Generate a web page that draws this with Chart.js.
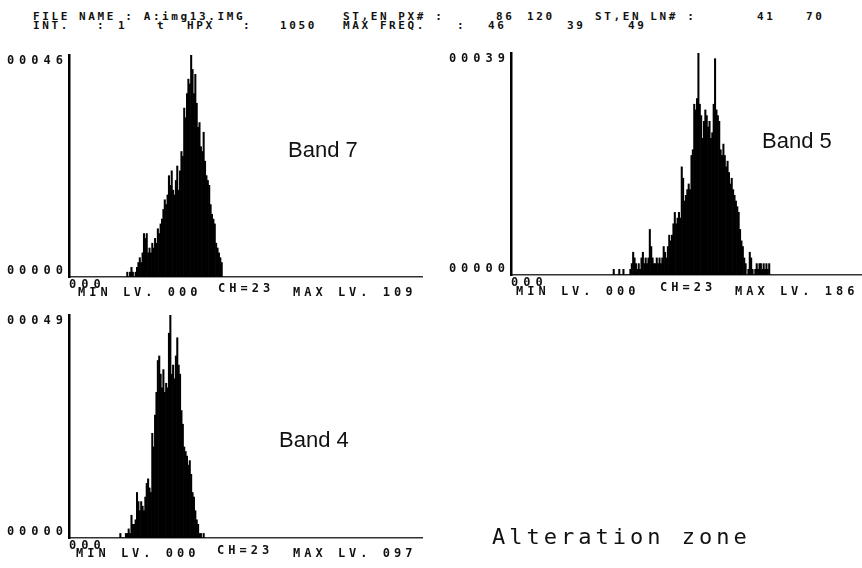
<!DOCTYPE html>
<html>
<head>
<meta charset="utf-8">
<script src="https://cdn.jsdelivr.net/npm/chart.js@4.4.1/dist/chart.umd.min.js"></script>
<style>
  body { margin: 0; background: #fff; }
  #page { position: relative; width: 862px; height: 568px; overflow: hidden; background: #fff; color: #111; }
  canvas { position: absolute; }
  .dot { position: absolute; font: bold 12px 'DejaVu Sans Mono', monospace; line-height: 1; letter-spacing: 4px; white-space: pre; }
  .hdr { font-size: 11px; letter-spacing: 2.6px; }
  .band { position: absolute; font: 22px 'Liberation Sans', Arial, sans-serif; line-height: 1; white-space: pre; }
  .zone { position: absolute; font: 22px 'DejaVu Sans Mono', monospace; line-height: 1; letter-spacing: 4px; white-space: pre; }
</style>
</head>
<body>
<div id="page">
  <!-- header printout -->
  <div class="dot hdr" style="left:33px;top:11px">FILE NAME : A:img13.IMG</div>
  <div class="dot hdr" style="left:343px;top:11px">ST,EN PX# :</div>
  <div class="dot hdr" style="left:496px;top:11px">86</div>
  <div class="dot hdr" style="left:527px;top:11px">120</div>
  <div class="dot hdr" style="left:595px;top:11px">ST,EN LN# :</div>
  <div class="dot hdr" style="left:757px;top:11px">41</div>
  <div class="dot hdr" style="left:806px;top:11px">70</div>
  <div class="dot hdr" style="left:33px;top:20px">INT.</div>
  <div class="dot hdr" style="left:97px;top:20px">:</div>
  <div class="dot hdr" style="left:118px;top:20px">1</div>
  <div class="dot hdr" style="left:157px;top:20px">t</div>
  <div class="dot hdr" style="left:187px;top:20px">HPX</div>
  <div class="dot hdr" style="left:243px;top:20px">:</div>
  <div class="dot hdr" style="left:280px;top:20px">1050</div>
  <div class="dot hdr" style="left:343px;top:20px">MAX FREQ.</div>
  <div class="dot hdr" style="left:457px;top:20px">:</div>
  <div class="dot hdr" style="left:488px;top:20px">46</div>
  <div class="dot hdr" style="left:567px;top:20px">39</div>
  <div class="dot hdr" style="left:628px;top:20px">49</div>

  <canvas id="band7" width="423" height="257" style="left:0;top:40px"></canvas>
  <canvas id="band5" width="425" height="255" style="left:440px;top:40px"></canvas>
  <canvas id="band4" width="423" height="258" style="left:0;top:300px"></canvas>

  <div class="band" style="left:288px;top:139px">Band 7</div>
  <div class="band" style="left:762px;top:130px">Band 5</div>
  <div class="band" style="left:279px;top:429px">Band 4</div>

  <div class="dot" style="left:78px;top:286px">MIN LV. 000</div>
  <div class="dot" style="left:218px;top:282px">CH=23</div>
  <div class="dot" style="left:293px;top:286px">MAX LV. 109</div>

  <div class="dot" style="left:516px;top:285px">MIN LV. 000</div>
  <div class="dot" style="left:660px;top:281px">CH=23</div>
  <div class="dot" style="left:735px;top:285px">MAX LV. 186</div>

  <div class="dot" style="left:76px;top:547px">MIN LV. 000</div>
  <div class="dot" style="left:217px;top:544px">CH=23</div>
  <div class="dot" style="left:293px;top:547px">MAX LV. 097</div>

  <div class="zone" style="left:492px;top:526px">Alteration zone</div>
</div>

<script>
// grey levels 0..255, one bar per level; counts start at bandXStart
const levelMin = 0;
const levelMax = 255;
const xTickLevels = [0];

const band7Start = 42;
const band7Counts = [1, 0, 1, 2, 1, 0, 1, 2, 3, 4,
  3, 5, 9, 8, 9, 5, 6, 5, 7, 6,
  8, 7, 10, 9, 11, 12, 14, 16, 15, 17,
  21, 19, 22, 18, 17, 20, 23, 18, 22, 26,
  25, 35, 33, 38, 41, 40, 46, 43, 38, 42,
  36, 31, 32, 27, 26, 30, 24, 21, 20, 19,
  15, 13, 12, 11, 7, 6, 5, 4, 3];

const band5Start = 74;
const band5Counts = [1, 0, 0, 0, 1, 0, 0, 1, 0, 0,
  0, 0, 1, 2, 4, 3, 2, 1, 2, 1,
  3, 4, 2, 3, 2, 3, 8, 5, 3, 2,
  2, 3, 2, 3, 2, 3, 5, 4, 3, 5,
  7, 6, 7, 9, 11, 9, 10, 11, 10, 19,
  17, 13, 14, 15, 16, 15, 21, 22, 30, 29,
  31, 39, 30, 28, 24, 27, 29, 28, 26, 27,
  24, 25, 30, 38, 29, 28, 27, 22, 21, 23,
  21, 19, 20, 18, 16, 17, 15, 14, 13, 12,
  11, 8, 6, 5, 3, 2, 0, 1, 4, 3,
  1, 0, 1, 2, 1, 2, 2, 1, 2, 1,
  2, 1, 2, 0];

const band4Start = 37;
const band4Counts = [1, 0, 0, 0, 1, 1, 2, 1, 5, 3,
  3, 4, 10, 8, 6, 8, 7, 6, 9, 12,
  13, 11, 10, 23, 20, 27, 32, 39, 40, 36,
  33, 37, 32, 34, 33, 45, 49, 36, 38, 35,
  40, 44, 38, 36, 28, 25, 20, 19, 18, 16,
  17, 14, 10, 9, 6, 4, 3, 1, 1, 0,
  1];

// MAX FREQ. for band 7, 5, 4 (top tick of each y axis)
const maxFreq = [46, 39, 49];

const dotFont = { family: "'DejaVu Sans Mono', monospace", size: 12, weight: 'bold', lineHeight: 1 };

// y labels are spaced wide, the x "000" label tighter (x axis drawn after the bars, z:1)
const spacing = {
  id: 'spacing',
  beforeDraw(chart) { chart.ctx.letterSpacing = '5px'; },
  afterDatasetsDraw(chart) { chart.ctx.letterSpacing = '1.5px'; }
};

function histogram(id, start, counts, top, padTop, axisWidth) {
  const points = counts.map((c, i) => ({ x: start + i, y: c }));
  return new Chart(document.getElementById(id), {
    type: 'bar',
    data: {
      datasets: [{
        data: points,
        backgroundColor: '#000',
        borderWidth: 0,
        barPercentage: 1,
        categoryPercentage: 1
      }]
    },
    options: {
      responsive: false,
      animation: false,
      devicePixelRatio: 1,
      layout: { padding: { top: padTop, left: 0, right: 0, bottom: 0 } },
      plugins: { legend: { display: false }, tooltip: { enabled: false } },
      scales: {
        x: {
          type: 'linear',
          min: levelMin,
          max: levelMax,
          offset: false,
          z: 1,
          grid: { display: false, drawTicks: false },
          border: { display: true, color: '#333', width: 1.5 },
          afterBuildTicks: s => { s.ticks = xTickLevels.map(v => ({ value: v })); },
          afterFit: s => { s.height = 20; },
          ticks: {
            align: 'start',
            padding: 2,
            maxRotation: 0,
            color: '#111',
            font: dotFont,
            callback: v => String(v).padStart(3, '0')
          }
        },
        y: {
          min: 0,
          max: top,
          grid: { display: false, drawTicks: false },
          border: { display: true, color: '#000', width: 2.5 },
          afterBuildTicks: s => { s.ticks = [{ value: 0 }, { value: top }]; },
          afterFit: s => { s.width = axisWidth; },
          ticks: {
            padding: 1,
            color: '#111',
            font: dotFont,
            // printer puts the labels just inside the axis ends
            callback: v => v === 0 ? [String(v).padStart(5, '0'), ''] : ['', String(v).padStart(5, '0')]
          }
        }
      }
    },
    plugins: [spacing]
  });
}

histogram('band7', band7Start, band7Counts, maxFreq[0], 15, 69);
histogram('band5', band5Start, band5Counts, maxFreq[1], 12, 71);
histogram('band4', band4Start, band4Counts, maxFreq[2], 15, 69);
</script>
</body>
</html>
